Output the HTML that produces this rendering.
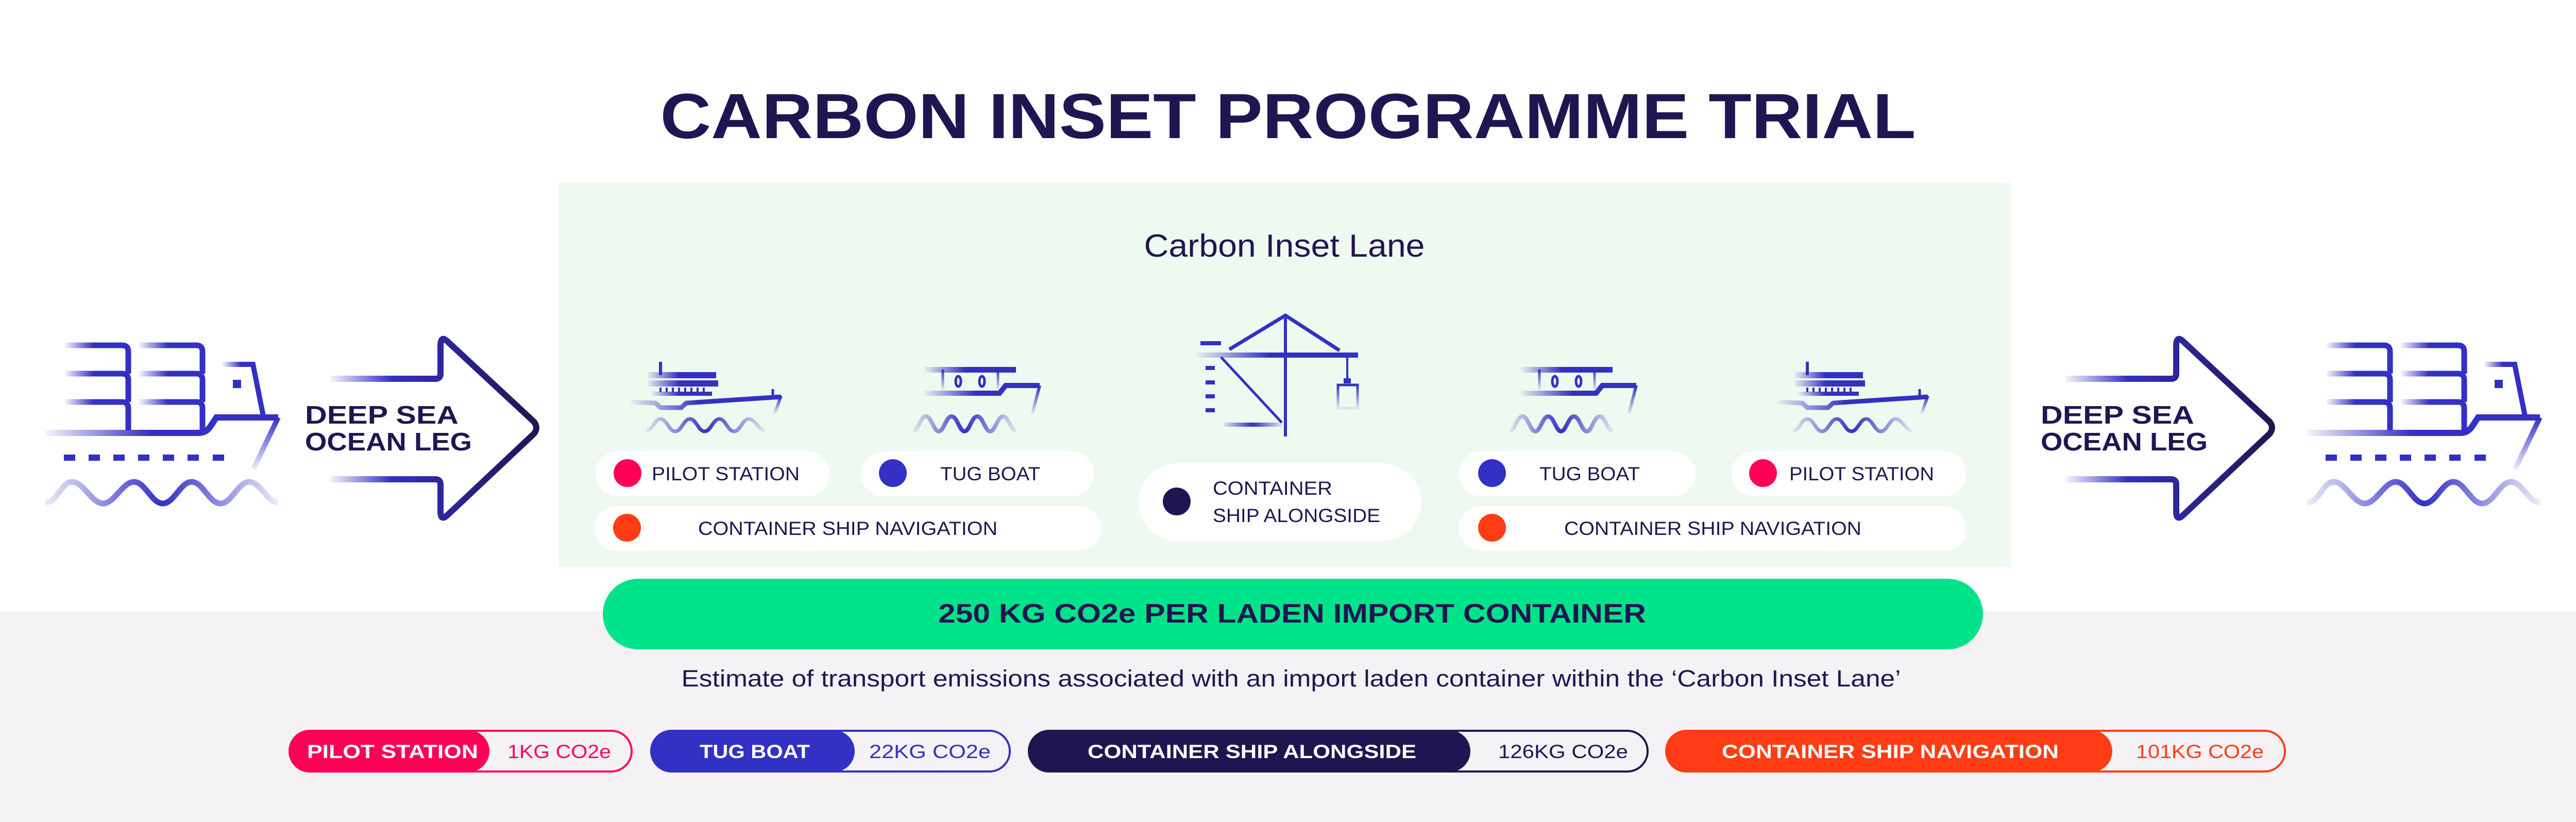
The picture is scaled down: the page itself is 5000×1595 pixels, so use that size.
<!DOCTYPE html>
<html><head><meta charset="utf-8"><style>
html,body{margin:0;padding:0;background:#fff}
svg{display:block}
text{font-family:"Liberation Sans",sans-serif}
</style></head><body>
<svg width="5000" height="1595" viewBox="0 0 5000 1595" xmlns="http://www.w3.org/2000/svg">
<defs>
<linearGradient id="fL" x1="0" y1="0" x2="1" y2="0"><stop offset="0" stop-color="#3330c4" stop-opacity="0.05"/><stop offset="0.45" stop-color="#3330c4" stop-opacity="1"/><stop offset="1" stop-color="#3330c4"/></linearGradient>
<linearGradient id="fLR" x1="0" y1="0" x2="1" y2="0"><stop offset="0" stop-color="#3330c4" stop-opacity="0.1"/><stop offset="0.5" stop-color="#3330c4"/><stop offset="1" stop-color="#3330c4" stop-opacity="0.1"/></linearGradient>
<linearGradient id="fD" x1="0" y1="0" x2="0" y2="1"><stop offset="0" stop-color="#3330c4"/><stop offset="1" stop-color="#3330c4" stop-opacity="0.1"/></linearGradient>
<linearGradient id="fA" x1="0" y1="0" x2="1" y2="0"><stop offset="0" stop-color="#3330c4" stop-opacity="0.05"/><stop offset="0.3" stop-color="#3330c4"/><stop offset="1" stop-color="#211551"/></linearGradient>
<g id="ship" fill="none">
  <g stroke="url(#fL)" stroke-width="11">
    <path d="M126 670 H237 Q249 670 249 682 V725"/><path d="M270 670 H381 Q393 670 393 682 V725"/>
    <path d="M126 725 H237 Q249 725 249 737 V780"/><path d="M270 725 H381 Q393 725 393 737 V780"/>
    <path d="M126 780 H237 Q249 780 249 792 V835"/><path d="M270 780 H381 Q393 780 393 792 V835"/>
    <path d="M432 707 H491 L512 812" stroke-width="10"/>
    <path d="M88 840 H385 Q400 840 408 828 L420 810 H540" stroke-width="12"/>
  </g>
  <path d="M540 810 L492 910" stroke="url(#fD)" stroke-width="10"/>
  <rect x="452" y="737" width="16" height="16" fill="#3330c4"/>
  <g fill="#3330c4"><rect x="124" y="882" width="22" height="12"/><rect x="172" y="882" width="22" height="12"/><rect x="220" y="882" width="22" height="12"/><rect x="268" y="882" width="22" height="12"/><rect x="316" y="882" width="22" height="12"/><rect x="364" y="882" width="22" height="12"/><rect x="413" y="882" width="22" height="12"/></g>
  <path d="M88 975 C112 975 118 935 140 935 C162 935 178 977 200 977 C222 977 238 935 260 935 C282 935 294 977 316 977 C338 977 350 935 372 935 C394 935 406 977 428 977 C450 977 462 935 484 935 C506 935 518 975 540 975" stroke="url(#fLR)" stroke-width="11"/>
</g>
<g id="arrow">
  <path d="M640 735 H845 Q855 735 855 725 V672 Q855 650 868 662 L1036 818 Q1046 830 1036 842 L868 1000 Q855 1012 855 992 V940 Q855 930 845 930 H640" fill="none" stroke="url(#fA)" stroke-width="12"/>
  <text x="592" y="822" font-size="49" font-weight="bold" fill="#211551" textLength="298" lengthAdjust="spacingAndGlyphs">DEEP SEA</text>
  <text x="592" y="874" font-size="49" font-weight="bold" fill="#211551" textLength="324" lengthAdjust="spacingAndGlyphs">OCEAN LEG</text>
</g>
<g id="pilot" fill="none">
  <path d="M1282 702 V728" stroke="#3330c4" stroke-width="6"/>
  <rect x="1257" y="722" width="133" height="12" fill="url(#fL)"/>
  <rect x="1257" y="738" width="137" height="12" fill="url(#fL)"/>
  <g fill="#3330c4"><rect x="1280" y="752" width="4" height="9"/><rect x="1292" y="752" width="4" height="9"/><rect x="1304" y="752" width="4" height="9"/><rect x="1316" y="752" width="4" height="9"/><rect x="1328" y="752" width="4" height="9"/><rect x="1340" y="752" width="4" height="9"/><rect x="1352" y="752" width="4" height="9"/><rect x="1364" y="752" width="4" height="9"/></g>
  <rect x="1265" y="760" width="117" height="8" fill="url(#fL)"/>
  <path d="M1225 780 L1272 782 L1282 791 H1322 L1332 782 L1516 770" stroke="url(#fL)" stroke-width="9"/>
  <path d="M1500 755 V770" stroke="#3330c4" stroke-width="5"/>
  <path d="M1516 768 L1504 802" stroke="url(#fD)" stroke-width="6"/>
  <path d="M1225 835 C1238 835 1240 813 1252 813 C1264 813 1268 837 1280 837 C1292 837 1296 813 1308 813 C1320 813 1324 837 1336 837 C1348 837 1352 813 1364 813 C1376 813 1380 837 1392 837 C1404 837 1408 813 1420 813 C1432 813 1440 835 1450 835" stroke="url(#fLR)" stroke-width="7" transform="translate(5,0) scale(1.02,1)"/>
</g>
<g id="tug" fill="none">
  <rect x="1794" y="712" width="178" height="11" fill="url(#fL)"/>
  <path d="M1830 717 V756 M1937 717 V756" stroke="url(#fD)" stroke-width="5"/>
  <ellipse cx="1860" cy="740" rx="5" ry="10" stroke="#3330c4" stroke-width="5"/>
  <ellipse cx="1906" cy="740" rx="5" ry="10" stroke="#3330c4" stroke-width="5"/>
  <path d="M1794 763 H1940 L1952 748 H2018" stroke="url(#fL)" stroke-width="10"/>
  <path d="M2018 748 L2004 802" stroke="url(#fD)" stroke-width="6"/>
  <path d="M1773 835 C1783 835 1786 808 1797 808 C1808 808 1812 837 1822 837 C1832 837 1836 808 1847 808 C1858 808 1862 837 1872 837 C1882 837 1886 808 1897 808 C1908 808 1912 837 1922 837 C1932 837 1936 808 1947 808 C1958 808 1962 835 1972 835" stroke="url(#fLR)" stroke-width="8"/>
</g>
</defs>

<rect x="0" y="1186" width="5000" height="409" fill="#f4f2f5"/>
<text x="2500" y="268" text-anchor="middle" font-size="124" font-weight="900" fill="#211551" textLength="2437" lengthAdjust="spacingAndGlyphs">CARBON INSET PROGRAMME TRIAL</text>

<rect x="1084" y="354" width="2819" height="746" fill="#eefaf0"/>
<text x="2493" y="498" text-anchor="middle" font-size="62" fill="#211551" textLength="545" lengthAdjust="spacingAndGlyphs">Carbon Inset Lane</text>

<use href="#ship"/>
<use href="#arrow"/>
<use href="#arrow" transform="translate(3369,0)"/>
<use href="#ship" transform="translate(4390,0)"/>

<use href="#pilot"/>
<use href="#tug"/>
<use href="#tug" transform="translate(1158,0)"/>
<use href="#pilot" transform="translate(2226,0)"/>

<!-- crane -->
<g fill="none" stroke="#3330c4">
  <rect x="2324" y="684" width="312" height="10" fill="url(#fL)" stroke="none"/>
  <path d="M2495 612 V847" stroke-width="6"/>
  <path d="M2386 678 L2495 612 L2600 680" stroke-width="7"/>
  <path d="M2335 666 V847" stroke="url(#fD)" stroke-width="5"/>
  <path d="M2365 666 V847" stroke="url(#fD)" stroke-width="5"/>
  <path d="M2330 666 H2370" stroke-width="8"/>
  <g fill="#3330c4" stroke="none"><rect x="2340" y="710" width="18" height="8"/><rect x="2340" y="738" width="18" height="8"/><rect x="2340" y="765" width="18" height="8"/><rect x="2340" y="792" width="18" height="8"/></g>
  <path d="M2370 693 L2488 820" stroke-width="5"/>
  <rect x="2375" y="820" width="113" height="8" fill="url(#fLR)" stroke="none"/>
  <path d="M2615 694 V740" stroke-width="4"/>
  <rect x="2608" y="734" width="14" height="10" fill="#3330c4" stroke="none"/>
  <rect x="2597" y="747" width="38" height="45" stroke-width="5" stroke="url(#fD)"/>
</g>

<!-- pills -->
<g font-size="37" fill="#211551">
  <rect x="1156" y="876" width="454" height="87" rx="43.5" fill="#fff"/>
  <ellipse cx="1218" cy="918" rx="27" ry="27" fill="#ff0057"/>
  <text x="1265" y="932" textLength="287" lengthAdjust="spacingAndGlyphs">PILOT STATION</text>
  <rect x="1671" y="876" width="452" height="87" rx="43.5" fill="#fff"/>
  <ellipse cx="1733" cy="918" rx="27" ry="27" fill="#3330c4"/>
  <text x="1825" y="932" textLength="194" lengthAdjust="spacingAndGlyphs">TUG BOAT</text>
  <rect x="1153" y="982" width="985" height="87" rx="43.5" fill="#fff"/>
  <ellipse cx="1217" cy="1024" rx="27" ry="27" fill="#ff3c14"/>
  <text x="1355" y="1038" textLength="581" lengthAdjust="spacingAndGlyphs">CONTAINER SHIP NAVIGATION</text>

  <rect x="2210" y="899" width="548" height="151" rx="75" fill="#fff"/>
  <ellipse cx="2284" cy="973" rx="27" ry="27" fill="#211551"/>
  <text x="2354" y="960" textLength="232" lengthAdjust="spacingAndGlyphs">CONTAINER</text>
  <text x="2354" y="1013" textLength="325" lengthAdjust="spacingAndGlyphs">SHIP ALONGSIDE</text>

  <rect x="2832" y="876" width="459" height="87" rx="43.5" fill="#fff"/>
  <ellipse cx="2896" cy="918" rx="27" ry="27" fill="#3330c4"/>
  <text x="2988" y="932" textLength="195" lengthAdjust="spacingAndGlyphs">TUG BOAT</text>
  <rect x="3361" y="876" width="456" height="87" rx="43.5" fill="#fff"/>
  <ellipse cx="3422" cy="918" rx="27" ry="27" fill="#ff0057"/>
  <text x="3473" y="932" textLength="281" lengthAdjust="spacingAndGlyphs">PILOT STATION</text>
  <rect x="2832" y="982" width="985" height="87" rx="43.5" fill="#fff"/>
  <ellipse cx="2896" cy="1024" rx="27" ry="27" fill="#ff3c14"/>
  <text x="3036" y="1038" textLength="577" lengthAdjust="spacingAndGlyphs">CONTAINER SHIP NAVIGATION</text>
</g>

<rect x="1170" y="1123" width="2679" height="137" rx="68.5" fill="#00e38a"/>
<text x="2508" y="1208" text-anchor="middle" font-size="52" font-weight="900" fill="#211551" textLength="1374" lengthAdjust="spacingAndGlyphs">250 KG CO2e PER LADEN IMPORT CONTAINER</text>
<text x="2506" y="1332" text-anchor="middle" font-size="45" fill="#211551" textLength="2367" lengthAdjust="spacingAndGlyphs">Estimate of transport emissions associated with an import laden container within the ‘Carbon Inset Lane’</text>

<!-- legend -->
<g font-size="37">
  <rect x="562" y="1418" width="664" height="79" rx="39.5" fill="none" stroke="#ff0057" stroke-width="4"/>
  <rect x="561" y="1417" width="389" height="81" rx="40.5" fill="#ff0057"/>
  <text x="596" y="1471" fill="#fff" font-weight="bold" textLength="332" lengthAdjust="spacingAndGlyphs">PILOT STATION</text>
  <text x="985" y="1471" fill="#ff0057" textLength="201" lengthAdjust="spacingAndGlyphs">1KG CO2e</text>

  <rect x="1264" y="1418" width="696" height="79" rx="39.5" fill="none" stroke="#3330c4" stroke-width="4"/>
  <rect x="1263" y="1417" width="396" height="81" rx="40.5" fill="#3330c4"/>
  <text x="1358" y="1471" fill="#fff" font-weight="bold" textLength="214" lengthAdjust="spacingAndGlyphs">TUG BOAT</text>
  <text x="1687" y="1471" fill="#3330c4" textLength="236" lengthAdjust="spacingAndGlyphs">22KG CO2e</text>

  <rect x="1997" y="1418" width="1201" height="79" rx="39.5" fill="none" stroke="#211551" stroke-width="4"/>
  <rect x="1996" y="1417" width="858" height="81" rx="40.5" fill="#211551"/>
  <text x="2111" y="1471" fill="#fff" font-weight="bold" textLength="638" lengthAdjust="spacingAndGlyphs">CONTAINER SHIP ALONGSIDE</text>
  <text x="2908" y="1471" fill="#211551" textLength="252" lengthAdjust="spacingAndGlyphs">126KG CO2e</text>

  <rect x="3234" y="1418" width="1201" height="79" rx="39.5" fill="none" stroke="#ff3c14" stroke-width="4"/>
  <rect x="3233" y="1417" width="867" height="81" rx="40.5" fill="#ff3c14"/>
  <text x="3342" y="1471" fill="#fff" font-weight="bold" textLength="654" lengthAdjust="spacingAndGlyphs">CONTAINER SHIP NAVIGATION</text>
  <text x="4146" y="1471" fill="#ff3c14" textLength="248" lengthAdjust="spacingAndGlyphs">101KG CO2e</text>
</g>
</svg>
</body></html>
